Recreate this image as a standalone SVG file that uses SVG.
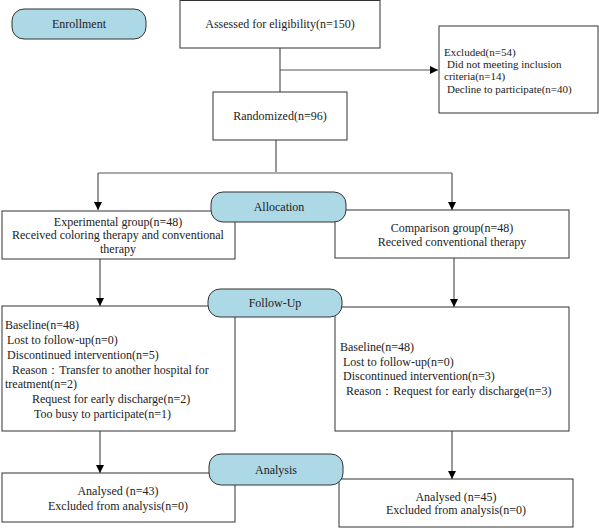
<svg xmlns="http://www.w3.org/2000/svg" width="599" height="528" viewBox="0 0 599 528">
<style>
.box{fill:#fff;stroke:#333;stroke-width:1}
.pill{fill:#add8e6;stroke:#333;stroke-width:1}
.t{font-family:"Liberation Serif","Times New Roman",serif;font-size:12px;fill:#222}
.s{font-family:"Liberation Serif","Times New Roman",serif;font-size:11px;fill:#222}
.c{text-anchor:middle}
.ln{fill:none;stroke:#555;stroke-width:1.2}
</style>
<defs>
<marker id="ah" viewBox="0 0 10 10" refX="10" refY="5" markerWidth="8" markerHeight="8" markerUnits="userSpaceOnUse" orient="auto">
<path d="M0,0 L10,5 L0,10 Z" fill="#000"/>
</marker>
</defs>
<g id="connectors">
<path class="ln" d="M280,48 V92"/>
<path class="ln" d="M280,70 H438" marker-end="url(#ah)"/>
<path class="ln" d="M276,140 V172"/>
<path class="ln" d="M98,173 H452"/>
<path class="ln" d="M98,173 V210" marker-end="url(#ah)"/>
<path class="ln" d="M452,173 V210" marker-end="url(#ah)"/>
<path class="ln" d="M100,259 V306" marker-end="url(#ah)"/>
<path class="ln" d="M454,258 V307" marker-end="url(#ah)"/>
<path class="ln" d="M100,431 V473" marker-end="url(#ah)"/>
<path class="ln" d="M452,431 V479" marker-end="url(#ah)"/>
</g>
<g id="enrollment">
<rect class="pill" x="12" y="9" width="134" height="30" rx="12"/>
<text class="t c" x="79" y="28">Enrollment</text>
</g>
<g id="assessed">
<rect class="box" x="180" y="0.5" width="200" height="47.5"/>
<text class="t c" x="280" y="28">Assessed for eligibility(n=150)</text>
</g>
<g id="excluded">
<rect class="box" x="439" y="26" width="159" height="87"/>
<text class="s" x="444" y="56">Excluded(n=54)</text>
<text class="s" x="447" y="68">Did not meeting inclusion</text>
<text class="s" x="444" y="80">criteria(n=14)</text>
<text class="s" x="447" y="93">Decline to participate(n=40)</text>
</g>
<g id="randomized">
<rect class="box" x="213" y="92" width="134" height="48"/>
<text class="t c" x="280" y="120">Randomized(n=96)</text>
</g>
<g id="experimental">
<rect class="box" x="2" y="211" width="233" height="48"/>
<text class="t c" x="118" y="226">Experimental group(n=48)</text>
<text class="t c" x="118" y="239">Received coloring therapy and conventional</text>
<text class="t c" x="118" y="253">therapy</text>
</g>
<g id="comparison">
<rect class="box" x="335" y="210" width="234" height="48"/>
<text class="t c" x="452" y="232">Comparison group(n=48)</text>
<text class="t c" x="452" y="246">Received conventional therapy</text>
</g>
<g id="allocation">
<rect class="pill" x="211" y="192" width="135" height="30" rx="12"/>
<text class="t c" x="279" y="211">Allocation</text>
</g>
<g id="followup-exp">
<rect class="box" x="2" y="306" width="233" height="125"/>
<text class="t" x="5" y="329">Baseline(n=48)</text>
<text class="t" x="7" y="344">Lost to follow-up(n=0)</text>
<text class="t" x="7" y="359">Discontinued intervention(n=5)</text>
<text class="t" x="12" y="374">Reason：Transfer to another hospital for</text>
<text class="t" x="5" y="388">treatment(n=2)</text>
<text class="t" x="32" y="403">Request for early discharge(n=2)</text>
<text class="t" x="34" y="418">Too busy to participate(n=1)</text>
</g>
<g id="followup-comp">
<rect class="box" x="335" y="307" width="234" height="124"/>
<text class="t" x="340" y="351">Baseline(n=48)</text>
<text class="t" x="343" y="366">Lost to follow-up(n=0)</text>
<text class="t" x="343" y="380">Discontinued intervention(n=3)</text>
<text class="t" x="346" y="395">Reason：Request for early discharge(n=3)</text>
</g>
<g id="followup">
<rect class="pill" x="208" y="289" width="134" height="28" rx="12"/>
<text class="t c" x="275" y="307">Follow-Up</text>
</g>
<g id="analysis-exp">
<rect class="box" x="2" y="473" width="233" height="49"/>
<text class="t c" x="118" y="495">Analysed (n=43)</text>
<text class="t c" x="118" y="510">Excluded from analysis(n=0)</text>
</g>
<g id="analysis-comp">
<rect class="box" x="339" y="479" width="234" height="48"/>
<text class="t c" x="456" y="501">Analysed (n=45)</text>
<text class="t c" x="456" y="514">Excluded from analysis(n=0)</text>
</g>
<g id="analysis">
<rect class="pill" x="209" y="454" width="134" height="31" rx="12"/>
<text class="t c" x="276" y="474">Analysis</text>
</g>
</svg>
